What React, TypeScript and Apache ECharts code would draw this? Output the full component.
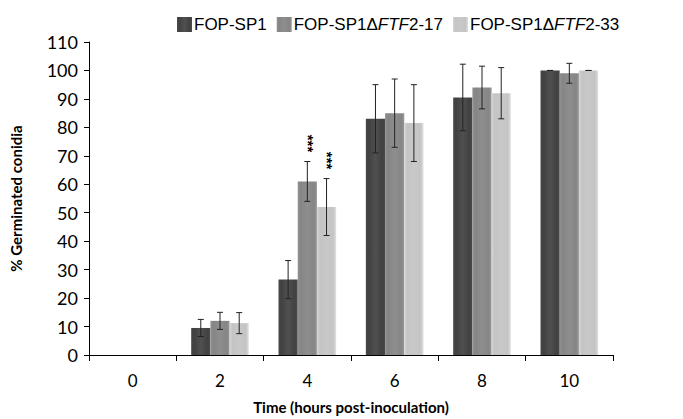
import React, { useEffect, useRef } from "react";
import * as echarts from "echarts";

const categories = ["0", "2", "4", "6", "8", "10"];
const seriesNames = ["FOP-SP1", "FOP-SP1ΔFTF2-17", "FOP-SP1ΔFTF2-33"];
const wildType = [0, 9.5, 26.5, 83, 90.5, 100];
const mutant17 = [0, 12, 61, 85, 94, 99];
const mutant33 = [0, 11.2, 52, 81.5, 92, 100];
const err1 = [0, 3, 6.7, 12, 11.7, 0];
const err2 = [0, 3, 7, 12, 7.5, 3.5];
const err3 = [0, 3.7, 10, 13.5, 9, 0];
const stars2 = ["", "", "***", "", "", ""];
const stars3 = ["", "", "***", "", "", ""];
const colors = ["#414141", "#858585", "#c4c4c4"];

const values = [wildType, mutant17, mutant33];
const errors = [err1, err2, err3];
const stars = [[], stars2, stars3];

const BAR_GAP_RATIO = 0.34;

function barGradient(c: string) {
  return new echarts.graphic.LinearGradient(0, 0, 1, 0, [
    { offset: 0, color: echarts.color.lift(c, -0.1) },
    { offset: 0.15, color: c },
    { offset: 0.5, color: echarts.color.lift(c, 0.08) },
    { offset: 0.85, color: c },
    { offset: 1, color: echarts.color.lift(c, -0.15) },
  ]);
}

export default function App() {
  const ref = useRef<HTMLDivElement>(null);
  useEffect(() => {
    if (!ref.current) return;
    const chart = echarts.init(ref.current, null, { renderer: "svg" });

    const barSeries = values.map((v, i) => ({
      name: seriesNames[i],
      type: "bar",
      data: v,
      barGap: "0%",
      barCategoryGap: BAR_GAP_RATIO * 100 + "%",
      itemStyle: { color: barGradient(colors[i]), borderWidth: 0 },
      z: 2,
    }));

    const errSeries = values.map((v, i) => ({
      type: "custom",
      name: "err" + i,
      silent: true,
      z: 5,
      data: v.map((val, j) => [j, val, errors[i][j]]),
      renderItem: (params: any, api: any) => {
        const x = api.value(0);
        const y = api.value(1);
        const e = api.value(2);
        const st = stars[i][params.dataIndex] || "";
        const band = api.size([1, 0])[0];
        const bw = (band * (1 - BAR_GAP_RATIO)) / 3;
        const center = api.coord([x, y]);
        const cx = center[0] + (i - 1) * bw;
        const top = api.coord([x, y + e])[1];
        const bot = api.coord([x, y - e])[1];
        const children: any[] = [];
        if (y > 0) {
          const cap = 3;
          const st2 = { stroke: "#222", lineWidth: 1 };
          children.push({ type: "line", shape: { x1: cx, y1: top, x2: cx, y2: bot }, style: st2 });
          children.push({ type: "line", shape: { x1: cx - cap, y1: top, x2: cx + cap, y2: top }, style: st2 });
          children.push({ type: "line", shape: { x1: cx - cap, y1: bot, x2: cx + cap, y2: bot }, style: st2 });
        }
        if (st) {
          children.push({
            type: "text",
            x: cx + 1,
            y: top - 18,
            rotation: -Math.PI / 2,
            style: {
              text: st,
              fontSize: 15,
              fontWeight: "bold",
              fill: "#000",
              stroke: "none",
              align: "center",
              verticalAlign: "middle",
              fontFamily: "Liberation Sans, Arial, sans-serif",
            },
          });
        }
        return { type: "group", children };
      },
    }));

    chart.setOption({
      animation: false,
      backgroundColor: "#fff",
      legend: {
        data: seriesNames,
        left: 172,
        top: 11,
        itemWidth: 15,
        itemHeight: 15,
        itemGap: 10,
        icon: "rect",
        formatter: (name: string) => {
          if (name.indexOf("FTF2") >= 0) {
            const parts = name.split("FTF");
            return parts[0] + "{i|FTF}" + parts[1];
          }
          return name;
        },
        textStyle: {
          fontSize: 17,
          color: "#000",
          padding: [0, 0, 0, -3],
          fontFamily: "Liberation Sans, Arial, sans-serif",
          rich: {
            i: { fontStyle: "italic", fontSize: 17, color: "#000", fontFamily: "Liberation Sans, Arial, sans-serif" },
          },
        },
      },
      grid: { left: 89, right: 70, top: 42, bottom: 62, containLabel: false },
      xAxis: {
        type: "category",
        data: categories,
        name: "Time (hours post-inoculation)",
        nameLocation: "middle",
        nameGap: 44,
        nameTextStyle: { fontSize: 15, fontWeight: "bold", color: "#000", fontFamily: "Lato, Carlito, sans-serif" },
        axisLine: { lineStyle: { color: "#000", width: 1 } },
        axisTick: { show: true, alignWithLabel: false, length: 6, lineStyle: { color: "#000" } },
        axisLabel: { fontSize: 17, color: "#000", margin: 17, fontFamily: "Lato, Carlito, sans-serif" },
      },
      yAxis: {
        type: "value",
        min: 0,
        max: 110,
        interval: 10,
        name: "% Germinated conidia",
        nameLocation: "middle",
        nameGap: 66,
        nameTextStyle: { fontSize: 15, fontWeight: "bold", color: "#000", fontFamily: "Lato, Carlito, sans-serif" },
        axisLine: { show: true, lineStyle: { color: "#000", width: 1 } },
        axisTick: { show: true, length: 5, lineStyle: { color: "#000" } },
        axisLabel: { fontSize: 18, color: "#000", margin: 11, fontFamily: "Lato, Carlito, sans-serif" },
        splitLine: { show: false },
      },
      series: [...barSeries, ...errSeries],
    });
    return () => chart.dispose();
  }, []);
  return <div ref={ref} style={{ width: 683, height: 419, position: "absolute", left: 0, top: 0 }} />;
}
